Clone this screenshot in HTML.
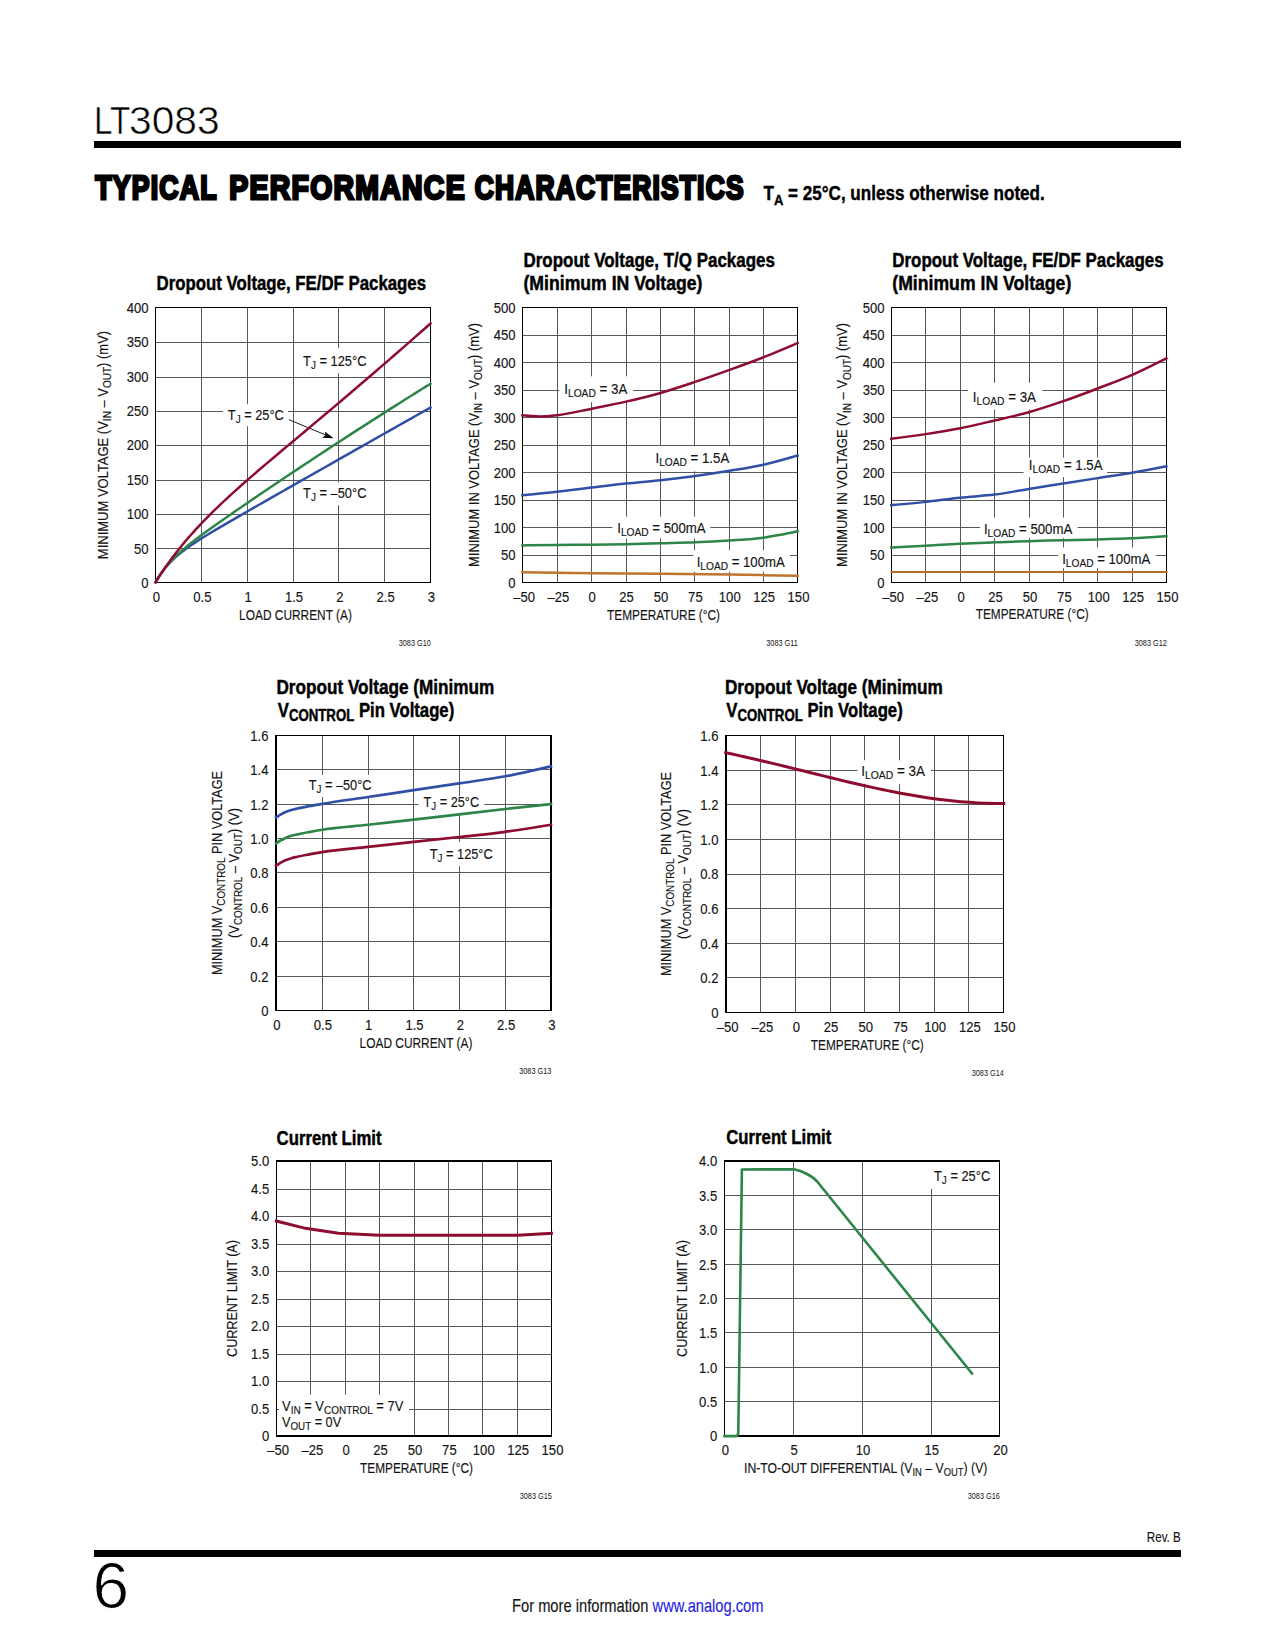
<!DOCTYPE html>
<html lang="en"><head><meta charset="utf-8"><title>LT3083 - Typical Performance Characteristics</title>
<style>
html,body{margin:0;padding:0;background:#fff;}
body{width:1275px;height:1650px;overflow:hidden;}
svg{display:block;font-family:"Liberation Sans",Arial,Helvetica,sans-serif;}
</style></head><body>
<svg width="1275" height="1650" viewBox="0 0 1275 1650">
<rect width="1275" height="1650" fill="#fff"/>
<rect x="94" y="141" width="1087" height="7" fill="#000"/>
<rect x="94" y="1550" width="1087" height="7" fill="#000"/>
<text y="134" font-size="39" fill="#000" stroke="#fff" stroke-width="0.55" paint-order="fill stroke"><tspan x="94" textLength="36.4" lengthAdjust="spacingAndGlyphs">LT</tspan><tspan x="129" textLength="90.6" lengthAdjust="spacingAndGlyphs">3083</tspan></text>
<text transform="translate(92.40,1608.00) scale(1.0300,1)" font-size="64.00" text-anchor="start" fill="#000" stroke="#fff" stroke-width="1.0" paint-order="fill stroke" xml:space="preserve">6</text>
<text y="198.9" font-size="33.2" font-weight="bold" fill="#000" stroke="#000" stroke-width="2.8" stroke-linejoin="miter" letter-spacing="1.5" xml:space="preserve"><tspan x="95.2" textLength="122.0" lengthAdjust="spacingAndGlyphs">TYPICAL</tspan> <tspan x="229.3" textLength="236.6" lengthAdjust="spacingAndGlyphs">PERFORMANCE</tspan> <tspan x="474.7" textLength="270.0" lengthAdjust="spacingAndGlyphs">CHARACTERISTICS</tspan></text>
<text transform="translate(763.50,199.50) scale(0.8456,1)" font-size="20.20" text-anchor="start" font-weight="bold" fill="#000" stroke="#000" stroke-width="0.4" xml:space="preserve">T<tspan font-size="15.35" dy="5.50">A</tspan><tspan dy="-5.50"> = 25°C, unless otherwise noted.</tspan></text>
<text transform="translate(512.00,1611.80) scale(0.8172,1)" font-size="18.00" text-anchor="start" fill="#141414" stroke="#141414" stroke-width="0.15" xml:space="preserve">For more information </text>
<text transform="translate(652.60,1611.80) scale(0.8158,1)" font-size="18.00" text-anchor="start" fill="#1f1fe0" stroke="#1f1fe0" stroke-width="0.15" xml:space="preserve">www.analog.com</text>
<text transform="translate(1180.80,1542.00) scale(0.8298,1)" font-size="14.00" text-anchor="end" fill="#141414" stroke="#141414" stroke-width="0.15" xml:space="preserve">Rev. B</text>
<path d="M201.5 307.5V582.5M247.5 307.5V582.5M293.5 307.5V582.5M338.5 307.5V582.5M384.5 307.5V582.5M155.5 342.5H430.5M155.5 377.5H430.5M155.5 411.5H430.5M155.5 445.5H430.5M155.5 480.5H430.5M155.5 514.5H430.5M155.5 548.5H430.5" stroke="#58595b" stroke-width="1" fill="none"/>
<rect x="299.0" y="348.0" width="71.0" height="25.2" fill="#fff"/>
<rect x="222.8" y="404.2" width="65.2" height="22.1" fill="#fff"/>
<rect x="299.0" y="482.4" width="71.0" height="22.8" fill="#fff"/>
<rect x="155.0" y="307.0" width="276.0" height="1.0" fill="#000"/>
<rect x="155.0" y="582.0" width="276.0" height="1.0" fill="#000"/>
<rect x="155.0" y="307.0" width="1.0" height="276.0" fill="#000"/>
<rect x="430.0" y="307.0" width="1.0" height="276.0" fill="#000"/>
<path d="M289 419.7L326 435.1" stroke="#000" stroke-width="0.9" fill="none"/><path d="M333.6 438.2L322.3 437.7L325.6 434.9L324.8 431.4Z" fill="#000"/>
<g fill="none" stroke-linejoin="round" stroke-linecap="square">
<path d="M155.50 582.37C156.30 580.95 157.11 579.53 157.91 578.21C158.72 576.89 159.52 575.66 160.32 574.47C161.13 573.28 161.93 572.16 162.74 571.08C163.54 570.00 164.35 568.98 165.15 567.99C165.95 567.01 166.76 566.07 167.56 565.17C168.37 564.26 169.17 563.39 169.97 562.55C170.78 561.72 171.58 560.91 172.39 560.13C173.19 559.35 173.99 558.60 174.80 557.86C175.60 557.13 176.41 556.42 177.21 555.73C178.01 555.03 178.82 554.36 179.62 553.71C180.43 553.05 181.23 552.41 182.04 551.78C182.84 551.15 183.64 550.54 184.45 549.94C185.25 549.34 186.06 548.75 186.86 548.17C187.66 547.59 188.47 547.02 189.27 546.45C190.08 545.89 190.88 545.34 191.68 544.79C192.49 544.24 193.29 543.70 194.10 543.17C194.90 542.64 195.70 542.11 196.51 541.59C197.31 541.06 198.12 540.55 198.92 540.03C199.73 539.52 200.53 539.01 201.33 538.51C204.06 536.79 206.79 535.13 209.52 533.47C212.25 531.82 214.97 530.21 217.70 528.59C220.43 526.98 223.16 525.39 225.89 523.80C228.62 522.21 231.34 520.64 234.07 519.06C236.80 517.49 239.53 515.92 242.26 514.36C244.98 512.79 247.71 511.23 250.44 509.67C253.17 508.10 255.90 506.55 258.62 504.99C261.35 503.43 264.08 501.87 266.81 500.32C269.54 498.76 272.27 497.21 274.99 495.65C277.72 494.10 280.45 492.55 283.18 490.99C285.91 489.44 288.63 487.89 291.36 486.34C294.09 484.79 296.82 483.24 299.55 481.68C302.28 480.13 305.00 478.58 307.73 477.03C310.46 475.48 313.19 473.93 315.92 472.39C318.64 470.84 321.37 469.29 324.10 467.74C326.83 466.19 329.56 464.64 332.29 463.10C335.01 461.55 337.74 460.00 340.47 458.46C343.20 456.91 345.93 455.36 348.65 453.82C351.38 452.27 354.11 450.72 356.84 449.18C359.57 447.63 362.30 446.09 365.02 444.55C367.75 443.00 370.48 441.46 373.21 439.91C375.94 438.37 378.66 436.83 381.39 435.28C384.12 433.74 386.85 432.20 389.58 430.65C392.31 429.11 395.03 427.57 397.76 426.03C400.49 424.49 403.22 422.95 405.95 421.41C408.67 419.86 411.40 418.32 414.13 416.78C416.86 415.24 419.59 413.70 422.32 412.16C425.04 410.62 427.77 409.09 430.50 407.55" stroke="#3050a6" stroke-width="2.50"/>
<path d="M155.50 582.37C156.30 580.96 157.11 579.54 157.91 578.22C158.72 576.90 159.52 575.65 160.32 574.45C161.13 573.25 161.93 572.11 162.74 571.01C163.54 569.90 164.35 568.86 165.15 567.84C165.95 566.82 166.76 565.85 167.56 564.90C168.37 563.95 169.17 563.04 169.97 562.16C170.78 561.27 171.58 560.42 172.39 559.58C173.19 558.75 173.99 557.94 174.80 557.14C175.60 556.35 176.41 555.58 177.21 554.82C178.01 554.07 178.82 553.33 179.62 552.60C180.43 551.88 181.23 551.17 182.04 550.47C182.84 549.77 183.64 549.08 184.45 548.40C185.25 547.73 186.06 547.06 186.86 546.40C187.66 545.74 188.47 545.09 189.27 544.45C190.08 543.80 190.88 543.17 191.68 542.54C192.49 541.90 193.29 541.28 194.10 540.66C194.90 540.04 195.70 539.43 196.51 538.82C197.31 538.21 198.12 537.61 198.92 537.00C199.73 536.40 200.53 535.81 201.33 535.21C204.06 533.19 206.79 531.22 209.52 529.26C212.25 527.30 214.97 525.37 217.70 523.45C220.43 521.52 223.16 519.62 225.89 517.72C228.62 515.82 231.34 513.94 234.07 512.05C236.80 510.17 239.53 508.30 242.26 506.43C244.98 504.56 247.71 502.70 250.44 500.84C253.17 498.98 255.90 497.13 258.62 495.28C261.35 493.43 264.08 491.58 266.81 489.74C269.54 487.90 272.27 486.07 274.99 484.23C277.72 482.40 280.45 480.57 283.18 478.74C285.91 476.92 288.63 475.10 291.36 473.28C294.09 471.46 296.82 469.65 299.55 467.84C302.28 466.03 305.00 464.22 307.73 462.42C310.46 460.61 313.19 458.81 315.92 457.02C318.64 455.22 321.37 453.43 324.10 451.64C326.83 449.85 329.56 448.07 332.29 446.29C335.01 444.50 337.74 442.73 340.47 440.95C343.20 439.18 345.93 437.41 348.65 435.64C351.38 433.87 354.11 432.11 356.84 430.35C359.57 428.59 362.30 426.83 365.02 425.08C367.75 423.33 370.48 421.58 373.21 419.83C375.94 418.09 378.66 416.34 381.39 414.61C384.12 412.87 386.85 411.13 389.58 409.40C392.31 407.67 395.03 405.94 397.76 404.22C400.49 402.49 403.22 400.77 405.95 399.05C408.67 397.33 411.40 395.62 414.13 393.91C416.86 392.20 419.59 390.49 422.32 388.79C425.04 387.08 427.77 385.38 430.50 383.69" stroke="#2d8548" stroke-width="2.50"/>
<path d="M155.50 582.37C156.30 581.09 157.11 579.80 157.91 578.54C158.72 577.28 159.52 576.04 160.32 574.81C161.13 573.59 161.93 572.38 162.74 571.19C163.54 570.00 164.35 568.82 165.15 567.66C165.95 566.50 166.76 565.36 167.56 564.23C168.37 563.10 169.17 561.98 169.97 560.88C170.78 559.78 171.58 558.69 172.39 557.62C173.19 556.54 173.99 555.48 174.80 554.43C175.60 553.38 176.41 552.35 177.21 551.32C178.01 550.30 178.82 549.28 179.62 548.28C180.43 547.28 181.23 546.29 182.04 545.30C182.84 544.32 183.64 543.35 184.45 542.39C185.25 541.43 186.06 540.48 186.86 539.54C187.66 538.60 188.47 537.67 189.27 536.75C190.08 535.82 190.88 534.91 191.68 534.00C192.49 533.10 193.29 532.20 194.10 531.31C194.90 530.42 195.70 529.54 196.51 528.66C197.31 527.79 198.12 526.92 198.92 526.06C199.73 525.20 200.53 524.35 201.33 523.50C204.06 520.63 206.79 517.84 209.52 515.10C212.25 512.36 214.97 509.70 217.70 507.07C220.43 504.44 223.16 501.88 225.89 499.34C228.62 496.80 231.34 494.31 234.07 491.85C236.80 489.38 239.53 486.95 242.26 484.54C244.98 482.13 247.71 479.74 250.44 477.37C253.17 475.01 255.90 472.66 258.62 470.32C261.35 467.98 264.08 465.66 266.81 463.35C269.54 461.03 272.27 458.73 274.99 456.43C277.72 454.13 280.45 451.84 283.18 449.55C285.91 447.26 288.63 444.98 291.36 442.70C294.09 440.41 296.82 438.13 299.55 435.85C302.28 433.56 305.00 431.28 307.73 428.99C310.46 426.71 313.19 424.42 315.92 422.13C318.64 419.84 321.37 417.55 324.10 415.26C326.83 412.96 329.56 410.66 332.29 408.36C335.01 406.06 337.74 403.75 340.47 401.44C343.20 399.13 345.93 396.81 348.65 394.49C351.38 392.17 354.11 389.85 356.84 387.52C359.57 385.19 362.30 382.85 365.02 380.51C367.75 378.17 370.48 375.83 373.21 373.48C375.94 371.13 378.66 368.78 381.39 366.42C384.12 364.06 386.85 361.70 389.58 359.33C392.31 356.96 395.03 354.59 397.76 352.22C400.49 349.84 403.22 347.46 405.95 345.07C408.67 342.69 411.40 340.30 414.13 337.90C416.86 335.51 419.59 333.11 422.32 330.71C425.04 328.31 427.77 325.90 430.50 323.49" stroke="#8e0c30" stroke-width="2.50"/>
</g>
<text transform="translate(303.10,366.00) scale(0.8412,1)" font-size="15.30" text-anchor="start" fill="#141414" stroke="#141414" stroke-width="0.15" xml:space="preserve">T<tspan font-size="11.78" dy="3.00">J</tspan><tspan dy="-3.00"> = 125°C</tspan></text>
<text transform="translate(227.80,420.00) scale(0.8376,1)" font-size="15.30" text-anchor="start" fill="#141414" stroke="#141414" stroke-width="0.15" xml:space="preserve">T<tspan font-size="11.78" dy="3.00">J</tspan><tspan dy="-3.00"> = 25°C</tspan></text>
<text transform="translate(303.10,497.60) scale(0.8412,1)" font-size="15.30" text-anchor="start" fill="#141414" stroke="#141414" stroke-width="0.15" xml:space="preserve">T<tspan font-size="11.78" dy="3.00">J</tspan><tspan dy="-3.00"> = –50°C</tspan></text>
<text transform="translate(156.50,601.80) scale(0.8600,1)" font-size="15.20" text-anchor="middle" fill="#141414" stroke="#141414" stroke-width="0.15" xml:space="preserve">0</text>
<text transform="translate(202.33,601.80) scale(0.8600,1)" font-size="15.20" text-anchor="middle" fill="#141414" stroke="#141414" stroke-width="0.15" xml:space="preserve">0.5</text>
<text transform="translate(248.17,601.80) scale(0.8600,1)" font-size="15.20" text-anchor="middle" fill="#141414" stroke="#141414" stroke-width="0.15" xml:space="preserve">1</text>
<text transform="translate(294.00,601.80) scale(0.8600,1)" font-size="15.20" text-anchor="middle" fill="#141414" stroke="#141414" stroke-width="0.15" xml:space="preserve">1.5</text>
<text transform="translate(339.83,601.80) scale(0.8600,1)" font-size="15.20" text-anchor="middle" fill="#141414" stroke="#141414" stroke-width="0.15" xml:space="preserve">2</text>
<text transform="translate(385.67,601.80) scale(0.8600,1)" font-size="15.20" text-anchor="middle" fill="#141414" stroke="#141414" stroke-width="0.15" xml:space="preserve">2.5</text>
<text transform="translate(431.50,601.80) scale(0.8600,1)" font-size="15.20" text-anchor="middle" fill="#141414" stroke="#141414" stroke-width="0.15" xml:space="preserve">3</text>
<text transform="translate(148.50,587.90) scale(0.8600,1)" font-size="15.20" text-anchor="end" fill="#141414" stroke="#141414" stroke-width="0.15" xml:space="preserve">0</text>
<text transform="translate(148.50,553.52) scale(0.8600,1)" font-size="15.20" text-anchor="end" fill="#141414" stroke="#141414" stroke-width="0.15" xml:space="preserve">50</text>
<text transform="translate(148.50,519.15) scale(0.8600,1)" font-size="15.20" text-anchor="end" fill="#141414" stroke="#141414" stroke-width="0.15" xml:space="preserve">100</text>
<text transform="translate(148.50,484.77) scale(0.8600,1)" font-size="15.20" text-anchor="end" fill="#141414" stroke="#141414" stroke-width="0.15" xml:space="preserve">150</text>
<text transform="translate(148.50,450.40) scale(0.8600,1)" font-size="15.20" text-anchor="end" fill="#141414" stroke="#141414" stroke-width="0.15" xml:space="preserve">200</text>
<text transform="translate(148.50,416.02) scale(0.8600,1)" font-size="15.20" text-anchor="end" fill="#141414" stroke="#141414" stroke-width="0.15" xml:space="preserve">250</text>
<text transform="translate(148.50,381.65) scale(0.8600,1)" font-size="15.20" text-anchor="end" fill="#141414" stroke="#141414" stroke-width="0.15" xml:space="preserve">300</text>
<text transform="translate(148.50,347.27) scale(0.8600,1)" font-size="15.20" text-anchor="end" fill="#141414" stroke="#141414" stroke-width="0.15" xml:space="preserve">350</text>
<text transform="translate(148.50,312.90) scale(0.8600,1)" font-size="15.20" text-anchor="end" fill="#141414" stroke="#141414" stroke-width="0.15" xml:space="preserve">400</text>
<text transform="translate(156.50,289.50) scale(0.8489,1)" font-size="19.80" text-anchor="start" font-weight="bold" fill="#000" stroke="#000" stroke-width="0.45" xml:space="preserve">Dropout Voltage, FE/DF Packages</text>
<text transform="translate(295.50,620.10) scale(0.7840,1)" font-size="15.20" text-anchor="middle" fill="#141414" stroke="#141414" stroke-width="0.15" xml:space="preserve">LOAD CURRENT (A)</text>
<text transform="translate(108.00,445.00) rotate(-90) scale(0.8550,1)" font-size="15.20" text-anchor="middle" fill="#141414" stroke="#141414" stroke-width="0.15" xml:space="preserve">MINIMUM VOLTAGE (V<tspan font-size="11.70" dy="3.40">IN</tspan><tspan dy="-3.40"> – V</tspan><tspan font-size="11.70" dy="3.40">OUT</tspan><tspan dy="-3.40">) (mV)</tspan></text>
<text transform="translate(430.80,646.00) scale(0.8400,1)" font-size="8.70" text-anchor="end" fill="#141414" xml:space="preserve">3083 G10</text>
<path d="M557.5 307.5V582.5M591.5 307.5V582.5M626.5 307.5V582.5M660.5 307.5V582.5M694.5 307.5V582.5M729.5 307.5V582.5M763.5 307.5V582.5M522.5 335.5H797.5M522.5 362.5H797.5M522.5 390.5H797.5M522.5 417.5H797.5M522.5 445.5H797.5M522.5 472.5H797.5M522.5 500.5H797.5M522.5 527.5H797.5M522.5 555.5H797.5" stroke="#58595b" stroke-width="1" fill="none"/>
<rect x="559.4" y="376.3" width="73.8" height="25.9" fill="#fff"/>
<rect x="652.0" y="446.2" width="82.0" height="25.1" fill="#fff"/>
<rect x="612.4" y="516.7" width="97.9" height="21.8" fill="#fff"/>
<rect x="693.3" y="550.4" width="96.5" height="21.2" fill="#fff"/>
<rect x="522.0" y="307.0" width="276.0" height="1.0" fill="#000"/>
<rect x="522.0" y="582.0" width="276.0" height="1.0" fill="#000"/>
<rect x="522.0" y="307.0" width="1.0" height="276.0" fill="#000"/>
<rect x="797.0" y="307.0" width="1.0" height="276.0" fill="#000"/>

<g fill="none" stroke-linejoin="round" stroke-linecap="square">
<path d="M522.47 415.29C528.12 415.87 533.76 416.45 539.41 416.47C545.29 416.49 551.18 415.93 557.06 415.29C568.59 414.04 580.12 410.99 591.65 408.71C603.10 406.44 614.55 404.26 626.00 401.65C637.53 399.01 649.06 396.24 660.59 392.94C672.12 389.65 683.65 385.74 695.18 381.88C706.63 378.05 718.08 374.02 729.53 369.88C740.90 365.78 752.27 361.66 763.65 357.18C774.94 352.72 786.24 347.89 797.53 343.06" stroke="#8e0c30" stroke-width="2.50"/>
<path d="M522.47 495.29C534.00 494.18 545.53 493.06 557.06 491.76C568.59 490.47 580.12 488.91 591.65 487.53C603.10 486.16 614.55 484.74 626.00 483.53C637.53 482.31 649.06 481.49 660.59 480.24C672.12 478.98 683.65 477.58 695.18 476.00C706.63 474.44 718.08 472.71 729.53 470.82C740.90 468.95 752.27 467.27 763.65 464.71C774.94 462.16 786.24 458.85 797.53 455.53" stroke="#3050a6" stroke-width="2.50"/>
<path d="M522.47 545.41C534.00 545.24 545.53 545.06 557.06 544.94C568.59 544.82 580.12 544.82 591.65 544.71C603.10 544.59 614.55 544.47 626.00 544.24C637.53 544.00 649.06 543.61 660.59 543.29C672.12 542.98 683.65 542.83 695.18 542.35C706.63 541.88 718.08 541.26 729.53 540.47C740.90 539.69 752.27 539.23 763.65 537.65C769.29 536.86 774.94 535.88 780.59 534.82C786.24 533.76 791.88 532.53 797.53 531.29" stroke="#2d8548" stroke-width="2.50"/>
<path d="M522.47 572.24C545.53 572.59 568.59 572.94 591.65 573.18C614.63 573.41 637.61 573.41 660.59 573.65C683.57 573.88 706.55 574.23 729.53 574.59C752.20 574.94 774.86 575.35 797.53 575.76" stroke="#bf7530" stroke-width="2.50"/>
</g>
<text transform="translate(564.20,393.80) scale(0.8719,1)" font-size="15.30" text-anchor="start" fill="#141414" stroke="#141414" stroke-width="0.15" xml:space="preserve">I<tspan font-size="11.78" dy="3.00">LOAD</tspan><tspan dy="-3.00"> = 3A</tspan></text>
<text transform="translate(655.50,462.70) scale(0.8658,1)" font-size="15.30" text-anchor="start" fill="#141414" stroke="#141414" stroke-width="0.15" xml:space="preserve">I<tspan font-size="11.78" dy="3.00">LOAD</tspan><tspan dy="-3.00"> = 1.5A</tspan></text>
<text transform="translate(617.20,532.80) scale(0.8655,1)" font-size="15.30" text-anchor="start" fill="#141414" stroke="#141414" stroke-width="0.15" xml:space="preserve">I<tspan font-size="11.78" dy="3.00">LOAD</tspan><tspan dy="-3.00"> = 500mA</tspan></text>
<text transform="translate(696.70,567.00) scale(0.8616,1)" font-size="15.30" text-anchor="start" fill="#141414" stroke="#141414" stroke-width="0.15" xml:space="preserve">I<tspan font-size="11.78" dy="3.00">LOAD</tspan><tspan dy="-3.00"> = 100mA</tspan></text>
<text transform="translate(524.10,601.80) scale(0.8600,1)" font-size="15.20" text-anchor="middle" fill="#141414" stroke="#141414" stroke-width="0.15" xml:space="preserve">–50</text>
<text transform="translate(558.48,601.80) scale(0.8600,1)" font-size="15.20" text-anchor="middle" fill="#141414" stroke="#141414" stroke-width="0.15" xml:space="preserve">–25</text>
<text transform="translate(592.25,601.80) scale(0.8600,1)" font-size="15.20" text-anchor="middle" fill="#141414" stroke="#141414" stroke-width="0.15" xml:space="preserve">0</text>
<text transform="translate(626.62,601.80) scale(0.8600,1)" font-size="15.20" text-anchor="middle" fill="#141414" stroke="#141414" stroke-width="0.15" xml:space="preserve">25</text>
<text transform="translate(661.00,601.80) scale(0.8600,1)" font-size="15.20" text-anchor="middle" fill="#141414" stroke="#141414" stroke-width="0.15" xml:space="preserve">50</text>
<text transform="translate(695.38,601.80) scale(0.8600,1)" font-size="15.20" text-anchor="middle" fill="#141414" stroke="#141414" stroke-width="0.15" xml:space="preserve">75</text>
<text transform="translate(729.75,601.80) scale(0.8600,1)" font-size="15.20" text-anchor="middle" fill="#141414" stroke="#141414" stroke-width="0.15" xml:space="preserve">100</text>
<text transform="translate(764.12,601.80) scale(0.8600,1)" font-size="15.20" text-anchor="middle" fill="#141414" stroke="#141414" stroke-width="0.15" xml:space="preserve">125</text>
<text transform="translate(798.50,601.80) scale(0.8600,1)" font-size="15.20" text-anchor="middle" fill="#141414" stroke="#141414" stroke-width="0.15" xml:space="preserve">150</text>
<text transform="translate(515.50,587.90) scale(0.8600,1)" font-size="15.20" text-anchor="end" fill="#141414" stroke="#141414" stroke-width="0.15" xml:space="preserve">0</text>
<text transform="translate(515.50,560.40) scale(0.8600,1)" font-size="15.20" text-anchor="end" fill="#141414" stroke="#141414" stroke-width="0.15" xml:space="preserve">50</text>
<text transform="translate(515.50,532.90) scale(0.8600,1)" font-size="15.20" text-anchor="end" fill="#141414" stroke="#141414" stroke-width="0.15" xml:space="preserve">100</text>
<text transform="translate(515.50,505.40) scale(0.8600,1)" font-size="15.20" text-anchor="end" fill="#141414" stroke="#141414" stroke-width="0.15" xml:space="preserve">150</text>
<text transform="translate(515.50,477.90) scale(0.8600,1)" font-size="15.20" text-anchor="end" fill="#141414" stroke="#141414" stroke-width="0.15" xml:space="preserve">200</text>
<text transform="translate(515.50,450.40) scale(0.8600,1)" font-size="15.20" text-anchor="end" fill="#141414" stroke="#141414" stroke-width="0.15" xml:space="preserve">250</text>
<text transform="translate(515.50,422.90) scale(0.8600,1)" font-size="15.20" text-anchor="end" fill="#141414" stroke="#141414" stroke-width="0.15" xml:space="preserve">300</text>
<text transform="translate(515.50,395.40) scale(0.8600,1)" font-size="15.20" text-anchor="end" fill="#141414" stroke="#141414" stroke-width="0.15" xml:space="preserve">350</text>
<text transform="translate(515.50,367.90) scale(0.8600,1)" font-size="15.20" text-anchor="end" fill="#141414" stroke="#141414" stroke-width="0.15" xml:space="preserve">400</text>
<text transform="translate(515.50,340.40) scale(0.8600,1)" font-size="15.20" text-anchor="end" fill="#141414" stroke="#141414" stroke-width="0.15" xml:space="preserve">450</text>
<text transform="translate(515.50,312.90) scale(0.8600,1)" font-size="15.20" text-anchor="end" fill="#141414" stroke="#141414" stroke-width="0.15" xml:space="preserve">500</text>
<text transform="translate(523.50,267.00) scale(0.8572,1)" font-size="19.80" text-anchor="start" font-weight="bold" fill="#000" stroke="#000" stroke-width="0.45" xml:space="preserve">Dropout Voltage, T/Q Packages</text>
<text transform="translate(523.50,289.50) scale(0.8908,1)" font-size="19.80" text-anchor="start" font-weight="bold" fill="#000" stroke="#000" stroke-width="0.45" xml:space="preserve">(Minimum IN Voltage)</text>
<text transform="translate(663.50,620.10) scale(0.7786,1)" font-size="15.20" text-anchor="middle" fill="#141414" stroke="#141414" stroke-width="0.15" xml:space="preserve">TEMPERATURE (°C)</text>
<text transform="translate(479.00,445.00) rotate(-90) scale(0.8512,1)" font-size="15.20" text-anchor="middle" fill="#141414" stroke="#141414" stroke-width="0.15" xml:space="preserve">MINIMUM IN VOLTAGE (V<tspan font-size="11.70" dy="3.40">IN</tspan><tspan dy="-3.40"> – V</tspan><tspan font-size="11.70" dy="3.40">OUT</tspan><tspan dy="-3.40">) (mV)</tspan></text>
<text transform="translate(797.80,646.00) scale(0.8400,1)" font-size="8.70" text-anchor="end" fill="#141414" xml:space="preserve">3083 G11</text>
<path d="M925.5 307.5V582.5M960.5 307.5V582.5M994.5 307.5V582.5M1029.5 307.5V582.5M1063.5 307.5V582.5M1097.5 307.5V582.5M1132.5 307.5V582.5M891.5 335.5H1166.5M891.5 362.5H1166.5M891.5 390.5H1166.5M891.5 417.5H1166.5M891.5 445.5H1166.5M891.5 472.5H1166.5M891.5 500.5H1166.5M891.5 527.5H1166.5M891.5 555.5H1166.5" stroke="#58595b" stroke-width="1" fill="none"/>
<rect x="968.2" y="382.8" width="74.2" height="26.6" fill="#fff"/>
<rect x="1023.5" y="457.6" width="83.5" height="19.4" fill="#fff"/>
<rect x="980.0" y="517.6" width="97.6" height="20.5" fill="#fff"/>
<rect x="1058.1" y="547.5" width="97.7" height="20.7" fill="#fff"/>
<rect x="891.0" y="307.0" width="276.0" height="1.0" fill="#000"/>
<rect x="891.0" y="582.0" width="276.0" height="1.0" fill="#000"/>
<rect x="891.0" y="307.0" width="1.0" height="276.0" fill="#000"/>
<rect x="1166.0" y="307.0" width="1.0" height="276.0" fill="#000"/>

<g fill="none" stroke-linejoin="round" stroke-linecap="square">
<path d="M891.29 438.82C902.75 437.35 914.20 435.88 925.65 434.12C937.18 432.35 948.71 430.52 960.24 428.24C971.69 425.97 983.14 423.15 994.59 420.47C1005.96 417.81 1017.33 415.42 1028.71 412.24C1040.24 409.00 1051.76 405.15 1063.29 401.18C1074.75 397.23 1086.20 392.85 1097.65 388.47C1109.18 384.06 1120.71 379.88 1132.24 374.82C1143.61 369.83 1154.98 364.09 1166.35 358.35" stroke="#8e0c30" stroke-width="2.50"/>
<path d="M891.29 505.18C902.75 504.15 914.20 503.13 925.65 501.88C937.18 500.62 948.71 498.87 960.24 497.65C971.69 496.44 983.14 496.05 994.59 494.59C1005.96 493.14 1017.33 490.77 1028.71 488.94C1040.24 487.08 1051.76 485.34 1063.29 483.53C1074.75 481.73 1086.20 479.92 1097.65 478.12C1109.18 476.31 1120.71 474.68 1132.24 472.71C1143.61 470.76 1154.98 468.55 1166.35 466.35" stroke="#3050a6" stroke-width="2.50"/>
<path d="M891.29 547.53C902.75 546.90 914.20 546.27 925.65 545.65C937.18 545.02 948.71 544.32 960.24 543.76C971.69 543.22 983.14 542.79 994.59 542.35C1005.96 541.92 1017.33 541.53 1028.71 541.18C1040.24 540.82 1051.76 540.51 1063.29 540.24C1074.75 539.96 1086.20 539.84 1097.65 539.53C1109.18 539.22 1120.71 538.91 1132.24 538.35C1143.61 537.81 1154.98 537.02 1166.35 536.24" stroke="#2d8548" stroke-width="2.50"/>
<path d="M891.5 571.9H1166.5" stroke="#b96d2c" stroke-width="2.00"/>
</g>
<text transform="translate(972.80,401.90) scale(0.8719,1)" font-size="15.30" text-anchor="start" fill="#141414" stroke="#141414" stroke-width="0.15" xml:space="preserve">I<tspan font-size="11.78" dy="3.00">LOAD</tspan><tspan dy="-3.00"> = 3A</tspan></text>
<text transform="translate(1028.80,469.90) scale(0.8658,1)" font-size="15.30" text-anchor="start" fill="#141414" stroke="#141414" stroke-width="0.15" xml:space="preserve">I<tspan font-size="11.78" dy="3.00">LOAD</tspan><tspan dy="-3.00"> = 1.5A</tspan></text>
<text transform="translate(983.90,534.10) scale(0.8655,1)" font-size="15.30" text-anchor="start" fill="#141414" stroke="#141414" stroke-width="0.15" xml:space="preserve">I<tspan font-size="11.78" dy="3.00">LOAD</tspan><tspan dy="-3.00"> = 500mA</tspan></text>
<text transform="translate(1062.20,564.00) scale(0.8616,1)" font-size="15.30" text-anchor="start" fill="#141414" stroke="#141414" stroke-width="0.15" xml:space="preserve">I<tspan font-size="11.78" dy="3.00">LOAD</tspan><tspan dy="-3.00"> = 100mA</tspan></text>
<text transform="translate(893.10,601.80) scale(0.8600,1)" font-size="15.20" text-anchor="middle" fill="#141414" stroke="#141414" stroke-width="0.15" xml:space="preserve">–50</text>
<text transform="translate(927.48,601.80) scale(0.8600,1)" font-size="15.20" text-anchor="middle" fill="#141414" stroke="#141414" stroke-width="0.15" xml:space="preserve">–25</text>
<text transform="translate(961.25,601.80) scale(0.8600,1)" font-size="15.20" text-anchor="middle" fill="#141414" stroke="#141414" stroke-width="0.15" xml:space="preserve">0</text>
<text transform="translate(995.62,601.80) scale(0.8600,1)" font-size="15.20" text-anchor="middle" fill="#141414" stroke="#141414" stroke-width="0.15" xml:space="preserve">25</text>
<text transform="translate(1030.00,601.80) scale(0.8600,1)" font-size="15.20" text-anchor="middle" fill="#141414" stroke="#141414" stroke-width="0.15" xml:space="preserve">50</text>
<text transform="translate(1064.38,601.80) scale(0.8600,1)" font-size="15.20" text-anchor="middle" fill="#141414" stroke="#141414" stroke-width="0.15" xml:space="preserve">75</text>
<text transform="translate(1098.75,601.80) scale(0.8600,1)" font-size="15.20" text-anchor="middle" fill="#141414" stroke="#141414" stroke-width="0.15" xml:space="preserve">100</text>
<text transform="translate(1133.12,601.80) scale(0.8600,1)" font-size="15.20" text-anchor="middle" fill="#141414" stroke="#141414" stroke-width="0.15" xml:space="preserve">125</text>
<text transform="translate(1167.50,601.80) scale(0.8600,1)" font-size="15.20" text-anchor="middle" fill="#141414" stroke="#141414" stroke-width="0.15" xml:space="preserve">150</text>
<text transform="translate(884.50,587.90) scale(0.8600,1)" font-size="15.20" text-anchor="end" fill="#141414" stroke="#141414" stroke-width="0.15" xml:space="preserve">0</text>
<text transform="translate(884.50,560.40) scale(0.8600,1)" font-size="15.20" text-anchor="end" fill="#141414" stroke="#141414" stroke-width="0.15" xml:space="preserve">50</text>
<text transform="translate(884.50,532.90) scale(0.8600,1)" font-size="15.20" text-anchor="end" fill="#141414" stroke="#141414" stroke-width="0.15" xml:space="preserve">100</text>
<text transform="translate(884.50,505.40) scale(0.8600,1)" font-size="15.20" text-anchor="end" fill="#141414" stroke="#141414" stroke-width="0.15" xml:space="preserve">150</text>
<text transform="translate(884.50,477.90) scale(0.8600,1)" font-size="15.20" text-anchor="end" fill="#141414" stroke="#141414" stroke-width="0.15" xml:space="preserve">200</text>
<text transform="translate(884.50,450.40) scale(0.8600,1)" font-size="15.20" text-anchor="end" fill="#141414" stroke="#141414" stroke-width="0.15" xml:space="preserve">250</text>
<text transform="translate(884.50,422.90) scale(0.8600,1)" font-size="15.20" text-anchor="end" fill="#141414" stroke="#141414" stroke-width="0.15" xml:space="preserve">300</text>
<text transform="translate(884.50,395.40) scale(0.8600,1)" font-size="15.20" text-anchor="end" fill="#141414" stroke="#141414" stroke-width="0.15" xml:space="preserve">350</text>
<text transform="translate(884.50,367.90) scale(0.8600,1)" font-size="15.20" text-anchor="end" fill="#141414" stroke="#141414" stroke-width="0.15" xml:space="preserve">400</text>
<text transform="translate(884.50,340.40) scale(0.8600,1)" font-size="15.20" text-anchor="end" fill="#141414" stroke="#141414" stroke-width="0.15" xml:space="preserve">450</text>
<text transform="translate(884.50,312.90) scale(0.8600,1)" font-size="15.20" text-anchor="end" fill="#141414" stroke="#141414" stroke-width="0.15" xml:space="preserve">500</text>
<text transform="translate(892.30,267.00) scale(0.8548,1)" font-size="19.80" text-anchor="start" font-weight="bold" fill="#000" stroke="#000" stroke-width="0.45" xml:space="preserve">Dropout Voltage, FE/DF Packages</text>
<text transform="translate(892.30,289.50) scale(0.8908,1)" font-size="19.80" text-anchor="start" font-weight="bold" fill="#000" stroke="#000" stroke-width="0.45" xml:space="preserve">(Minimum IN Voltage)</text>
<text transform="translate(1032.20,619.10) scale(0.7786,1)" font-size="15.20" text-anchor="middle" fill="#141414" stroke="#141414" stroke-width="0.15" xml:space="preserve">TEMPERATURE (°C)</text>
<text transform="translate(847.30,445.00) rotate(-90) scale(0.8512,1)" font-size="15.20" text-anchor="middle" fill="#141414" stroke="#141414" stroke-width="0.15" xml:space="preserve">MINIMUM IN VOLTAGE (V<tspan font-size="11.70" dy="3.40">IN</tspan><tspan dy="-3.40"> – V</tspan><tspan font-size="11.70" dy="3.40">OUT</tspan><tspan dy="-3.40">) (mV)</tspan></text>
<text transform="translate(1166.80,646.00) scale(0.8400,1)" font-size="8.70" text-anchor="end" fill="#141414" xml:space="preserve">3083 G12</text>
<path d="M322.5 735.5V1010.5M368.5 735.5V1010.5M413.5 735.5V1010.5M459.5 735.5V1010.5M505.5 735.5V1010.5M276.0 769.5H551.0M276.0 804.5H551.0M276.0 838.5H551.0M276.0 872.5H551.0M276.0 907.5H551.0M276.0 941.5H551.0M276.0 976.5H551.0" stroke="#58595b" stroke-width="1" fill="none"/>
<rect x="304.0" y="774.8" width="72.0" height="22.2" fill="#fff"/>
<rect x="418.5" y="796.0" width="65.9" height="17.2" fill="#fff"/>
<rect x="425.0" y="842.2" width="72.0" height="24.0" fill="#fff"/>
<rect x="275.0" y="735.0" width="277.0" height="1.0" fill="#000"/>
<rect x="275.0" y="1010.0" width="277.0" height="1.0" fill="#000"/>
<rect x="275.0" y="735.0" width="2.0" height="276.0" fill="#000"/>
<rect x="550.0" y="735.0" width="2.0" height="276.0" fill="#000"/>

<g fill="none" stroke-linejoin="round" stroke-linecap="square">
<path d="M276.12 817.47C277.69 816.39 279.25 815.31 280.82 814.41C282.39 813.51 283.96 812.75 285.53 812.06C287.49 811.20 289.45 810.53 291.41 809.94C293.37 809.35 295.33 808.97 297.29 808.53C301.22 807.64 305.14 806.92 309.06 806.18C313.45 805.34 317.84 804.58 322.24 803.82C337.53 801.19 352.82 799.28 368.12 797.00C383.33 794.73 398.55 792.45 413.76 790.18C428.98 787.90 444.20 785.66 459.41 783.35C474.71 781.03 490.00 779.21 505.29 776.29C512.82 774.86 520.35 773.22 527.88 771.59C535.57 769.93 543.25 768.17 550.94 766.41" stroke="#3050a6" stroke-width="2.70"/>
<path d="M276.12 843.35C277.69 842.27 279.25 841.20 280.82 840.29C282.39 839.39 283.96 838.63 285.53 837.94C287.49 837.08 289.45 836.41 291.41 835.82C293.37 835.24 295.33 834.86 297.29 834.41C301.22 833.52 305.14 832.80 309.06 832.06C313.45 831.22 317.84 830.42 322.24 829.71C337.53 827.22 352.82 826.46 368.12 824.76C383.33 823.08 398.55 821.31 413.76 819.59C428.98 817.86 444.20 816.17 459.41 814.41C474.71 812.64 490.00 810.73 505.29 809.00C520.51 807.28 535.73 805.67 550.94 804.06" stroke="#2d8548" stroke-width="2.70"/>
<path d="M276.12 865.71C277.69 864.63 279.25 863.55 280.82 862.65C282.39 861.75 283.96 860.98 285.53 860.29C287.49 859.44 289.45 858.76 291.41 858.18C293.37 857.59 295.33 857.21 297.29 856.76C301.22 855.88 305.14 855.16 309.06 854.41C313.45 853.58 317.84 852.78 322.24 852.06C337.53 849.55 352.82 848.57 368.12 846.88C383.33 845.20 398.55 843.59 413.76 841.94C428.98 840.29 444.20 838.68 459.41 837.00C474.71 835.31 490.00 833.87 505.29 831.82C520.51 829.79 535.73 827.28 550.94 824.76" stroke="#8e0c30" stroke-width="2.70"/>
</g>
<text transform="translate(308.70,789.70) scale(0.8332,1)" font-size="15.30" text-anchor="start" fill="#141414" stroke="#141414" stroke-width="0.15" xml:space="preserve">T<tspan font-size="11.78" dy="3.00">J</tspan><tspan dy="-3.00"> = –50°C</tspan></text>
<text transform="translate(423.50,807.40) scale(0.8316,1)" font-size="15.30" text-anchor="start" fill="#141414" stroke="#141414" stroke-width="0.15" xml:space="preserve">T<tspan font-size="11.78" dy="3.00">J</tspan><tspan dy="-3.00"> = 25°C</tspan></text>
<text transform="translate(429.80,859.10) scale(0.8346,1)" font-size="15.30" text-anchor="start" fill="#141414" stroke="#141414" stroke-width="0.15" xml:space="preserve">T<tspan font-size="11.78" dy="3.00">J</tspan><tspan dy="-3.00"> = 125°C</tspan></text>
<text transform="translate(277.00,1029.80) scale(0.8600,1)" font-size="15.20" text-anchor="middle" fill="#141414" stroke="#141414" stroke-width="0.15" xml:space="preserve">0</text>
<text transform="translate(322.83,1029.80) scale(0.8600,1)" font-size="15.20" text-anchor="middle" fill="#141414" stroke="#141414" stroke-width="0.15" xml:space="preserve">0.5</text>
<text transform="translate(368.67,1029.80) scale(0.8600,1)" font-size="15.20" text-anchor="middle" fill="#141414" stroke="#141414" stroke-width="0.15" xml:space="preserve">1</text>
<text transform="translate(414.50,1029.80) scale(0.8600,1)" font-size="15.20" text-anchor="middle" fill="#141414" stroke="#141414" stroke-width="0.15" xml:space="preserve">1.5</text>
<text transform="translate(460.33,1029.80) scale(0.8600,1)" font-size="15.20" text-anchor="middle" fill="#141414" stroke="#141414" stroke-width="0.15" xml:space="preserve">2</text>
<text transform="translate(506.17,1029.80) scale(0.8600,1)" font-size="15.20" text-anchor="middle" fill="#141414" stroke="#141414" stroke-width="0.15" xml:space="preserve">2.5</text>
<text transform="translate(552.00,1029.80) scale(0.8600,1)" font-size="15.20" text-anchor="middle" fill="#141414" stroke="#141414" stroke-width="0.15" xml:space="preserve">3</text>
<text transform="translate(268.40,1015.90) scale(0.8600,1)" font-size="15.20" text-anchor="end" fill="#141414" stroke="#141414" stroke-width="0.15" xml:space="preserve">0</text>
<text transform="translate(268.40,981.52) scale(0.8600,1)" font-size="15.20" text-anchor="end" fill="#141414" stroke="#141414" stroke-width="0.15" xml:space="preserve">0.2</text>
<text transform="translate(268.40,947.15) scale(0.8600,1)" font-size="15.20" text-anchor="end" fill="#141414" stroke="#141414" stroke-width="0.15" xml:space="preserve">0.4</text>
<text transform="translate(268.40,912.77) scale(0.8600,1)" font-size="15.20" text-anchor="end" fill="#141414" stroke="#141414" stroke-width="0.15" xml:space="preserve">0.6</text>
<text transform="translate(268.40,878.40) scale(0.8600,1)" font-size="15.20" text-anchor="end" fill="#141414" stroke="#141414" stroke-width="0.15" xml:space="preserve">0.8</text>
<text transform="translate(268.40,844.02) scale(0.8600,1)" font-size="15.20" text-anchor="end" fill="#141414" stroke="#141414" stroke-width="0.15" xml:space="preserve">1.0</text>
<text transform="translate(268.40,809.65) scale(0.8600,1)" font-size="15.20" text-anchor="end" fill="#141414" stroke="#141414" stroke-width="0.15" xml:space="preserve">1.2</text>
<text transform="translate(268.40,775.27) scale(0.8600,1)" font-size="15.20" text-anchor="end" fill="#141414" stroke="#141414" stroke-width="0.15" xml:space="preserve">1.4</text>
<text transform="translate(268.40,740.90) scale(0.8600,1)" font-size="15.20" text-anchor="end" fill="#141414" stroke="#141414" stroke-width="0.15" xml:space="preserve">1.6</text>
<text transform="translate(276.40,694.10) scale(0.8675,1)" font-size="19.80" text-anchor="start" font-weight="bold" fill="#000" stroke="#000" stroke-width="0.45" xml:space="preserve">Dropout Voltage (Minimum</text>
<text transform="translate(277.80,716.60) scale(0.8446,1)" font-size="19.80" text-anchor="start" font-weight="bold" fill="#000" stroke="#000" stroke-width="0.45" xml:space="preserve">V<tspan font-size="15.64" dy="4.00">CONTROL</tspan><tspan dy="-4.00"> Pin Voltage)</tspan></text>
<text transform="translate(416.00,1048.10) scale(0.7840,1)" font-size="15.20" text-anchor="middle" fill="#141414" stroke="#141414" stroke-width="0.15" xml:space="preserve">LOAD CURRENT (A)</text>
<text transform="translate(222.00,873.00) rotate(-90) scale(0.8401,1)" font-size="15.20" text-anchor="middle" fill="#141414" stroke="#141414" stroke-width="0.15" xml:space="preserve">MINIMUM V<tspan font-size="11.70" dy="3.40">CONTROL</tspan><tspan dy="-3.40"> PIN VOLTAGE</tspan></text>
<text transform="translate(239.00,873.00) rotate(-90) scale(0.8457,1)" font-size="15.20" text-anchor="middle" fill="#141414" stroke="#141414" stroke-width="0.15" xml:space="preserve">(V<tspan font-size="11.70" dy="3.40">CONTROL</tspan><tspan dy="-3.40"> – V</tspan><tspan font-size="11.70" dy="3.40">OUT</tspan><tspan dy="-3.40">) (V)</tspan></text>
<text transform="translate(551.30,1074.00) scale(0.8400,1)" font-size="8.70" text-anchor="end" fill="#141414" xml:space="preserve">3083 G13</text>
<path d="M760.5 735.5V1012.5M795.5 735.5V1012.5M830.5 735.5V1012.5M864.5 735.5V1012.5M899.5 735.5V1012.5M934.5 735.5V1012.5M968.5 735.5V1012.5M726.0 770.5H1003.5M726.0 804.5H1003.5M726.0 839.5H1003.5M726.0 874.5H1003.5M726.0 908.5H1003.5M726.0 943.5H1003.5M726.0 977.5H1003.5" stroke="#58595b" stroke-width="1" fill="none"/>
<rect x="857.4" y="760.3" width="73.4" height="23.5" fill="#fff"/>
<rect x="725.0" y="735.0" width="279.0" height="1.0" fill="#000"/>
<rect x="725.0" y="1012.0" width="279.0" height="1.0" fill="#000"/>
<rect x="725.0" y="735.0" width="2.0" height="278.0" fill="#000"/>
<rect x="1003.0" y="735.0" width="1.0" height="278.0" fill="#000"/>

<g fill="none" stroke-linejoin="round" stroke-linecap="square">
<path d="M725.65 752.70C728.54 753.31 731.44 753.92 734.34 754.54C737.24 755.17 740.13 755.81 743.03 756.45C745.93 757.10 748.82 757.76 751.72 758.43C754.62 759.10 757.51 759.77 760.41 760.46C763.31 761.14 766.21 761.83 769.10 762.53C772.00 763.22 774.90 763.93 777.79 764.63C780.69 765.34 783.59 766.05 786.49 766.77C789.38 767.48 792.28 768.20 795.18 768.92C798.07 769.64 800.97 770.36 803.87 771.08C806.76 771.80 809.66 772.52 812.56 773.24C815.46 773.96 818.35 774.67 821.25 775.39C824.15 776.10 827.04 776.82 829.94 777.52C832.84 778.23 835.74 778.93 838.63 779.63C841.53 780.33 844.43 781.02 847.32 781.70C850.22 782.39 853.12 783.07 856.01 783.74C858.91 784.40 861.81 785.06 864.71 785.71C867.60 786.36 870.50 787.01 873.40 787.63C876.29 788.26 879.19 788.88 882.09 789.48C884.99 790.09 887.88 790.68 890.78 791.26C893.68 791.83 896.57 792.40 899.47 792.94C902.37 793.49 905.26 794.02 908.16 794.54C911.06 795.05 913.96 795.55 916.85 796.03C919.75 796.51 922.65 796.97 925.54 797.41C928.44 797.85 931.34 798.27 934.24 798.67C937.13 799.07 940.03 799.45 942.93 799.80C945.82 800.16 948.72 800.49 951.62 800.80C954.51 801.11 957.41 801.39 960.31 801.65C963.21 801.91 966.10 802.14 969.00 802.35C971.90 802.56 974.79 802.74 977.69 802.89C980.59 803.04 983.49 803.16 986.38 803.26C989.28 803.35 992.18 803.42 995.07 803.45C997.97 803.48 1000.87 803.47 1003.76 803.46" stroke="#8e0c30" stroke-width="3.00"/>
</g>
<text transform="translate(861.30,776.30) scale(0.8802,1)" font-size="15.30" text-anchor="start" fill="#141414" stroke="#141414" stroke-width="0.15" xml:space="preserve">I<tspan font-size="11.78" dy="3.00">LOAD</tspan><tspan dy="-3.00"> = 3A</tspan></text>
<text transform="translate(727.60,1031.80) scale(0.8600,1)" font-size="15.20" text-anchor="middle" fill="#141414" stroke="#141414" stroke-width="0.15" xml:space="preserve">–50</text>
<text transform="translate(762.29,1031.80) scale(0.8600,1)" font-size="15.20" text-anchor="middle" fill="#141414" stroke="#141414" stroke-width="0.15" xml:space="preserve">–25</text>
<text transform="translate(796.38,1031.80) scale(0.8600,1)" font-size="15.20" text-anchor="middle" fill="#141414" stroke="#141414" stroke-width="0.15" xml:space="preserve">0</text>
<text transform="translate(831.06,1031.80) scale(0.8600,1)" font-size="15.20" text-anchor="middle" fill="#141414" stroke="#141414" stroke-width="0.15" xml:space="preserve">25</text>
<text transform="translate(865.75,1031.80) scale(0.8600,1)" font-size="15.20" text-anchor="middle" fill="#141414" stroke="#141414" stroke-width="0.15" xml:space="preserve">50</text>
<text transform="translate(900.44,1031.80) scale(0.8600,1)" font-size="15.20" text-anchor="middle" fill="#141414" stroke="#141414" stroke-width="0.15" xml:space="preserve">75</text>
<text transform="translate(935.12,1031.80) scale(0.8600,1)" font-size="15.20" text-anchor="middle" fill="#141414" stroke="#141414" stroke-width="0.15" xml:space="preserve">100</text>
<text transform="translate(969.81,1031.80) scale(0.8600,1)" font-size="15.20" text-anchor="middle" fill="#141414" stroke="#141414" stroke-width="0.15" xml:space="preserve">125</text>
<text transform="translate(1004.50,1031.80) scale(0.8600,1)" font-size="15.20" text-anchor="middle" fill="#141414" stroke="#141414" stroke-width="0.15" xml:space="preserve">150</text>
<text transform="translate(718.40,1017.90) scale(0.8600,1)" font-size="15.20" text-anchor="end" fill="#141414" stroke="#141414" stroke-width="0.15" xml:space="preserve">0</text>
<text transform="translate(718.40,983.27) scale(0.8600,1)" font-size="15.20" text-anchor="end" fill="#141414" stroke="#141414" stroke-width="0.15" xml:space="preserve">0.2</text>
<text transform="translate(718.40,948.65) scale(0.8600,1)" font-size="15.20" text-anchor="end" fill="#141414" stroke="#141414" stroke-width="0.15" xml:space="preserve">0.4</text>
<text transform="translate(718.40,914.02) scale(0.8600,1)" font-size="15.20" text-anchor="end" fill="#141414" stroke="#141414" stroke-width="0.15" xml:space="preserve">0.6</text>
<text transform="translate(718.40,879.40) scale(0.8600,1)" font-size="15.20" text-anchor="end" fill="#141414" stroke="#141414" stroke-width="0.15" xml:space="preserve">0.8</text>
<text transform="translate(718.40,844.77) scale(0.8600,1)" font-size="15.20" text-anchor="end" fill="#141414" stroke="#141414" stroke-width="0.15" xml:space="preserve">1.0</text>
<text transform="translate(718.40,810.15) scale(0.8600,1)" font-size="15.20" text-anchor="end" fill="#141414" stroke="#141414" stroke-width="0.15" xml:space="preserve">1.2</text>
<text transform="translate(718.40,775.52) scale(0.8600,1)" font-size="15.20" text-anchor="end" fill="#141414" stroke="#141414" stroke-width="0.15" xml:space="preserve">1.4</text>
<text transform="translate(718.40,740.90) scale(0.8600,1)" font-size="15.20" text-anchor="end" fill="#141414" stroke="#141414" stroke-width="0.15" xml:space="preserve">1.6</text>
<text transform="translate(724.90,694.10) scale(0.8675,1)" font-size="19.80" text-anchor="start" font-weight="bold" fill="#000" stroke="#000" stroke-width="0.45" xml:space="preserve">Dropout Voltage (Minimum</text>
<text transform="translate(726.30,716.60) scale(0.8446,1)" font-size="19.80" text-anchor="start" font-weight="bold" fill="#000" stroke="#000" stroke-width="0.45" xml:space="preserve">V<tspan font-size="15.64" dy="4.00">CONTROL</tspan><tspan dy="-4.00"> Pin Voltage)</tspan></text>
<text transform="translate(867.25,1050.10) scale(0.7786,1)" font-size="15.20" text-anchor="middle" fill="#141414" stroke="#141414" stroke-width="0.15" xml:space="preserve">TEMPERATURE (°C)</text>
<text transform="translate(671.00,874.00) rotate(-90) scale(0.8401,1)" font-size="15.20" text-anchor="middle" fill="#141414" stroke="#141414" stroke-width="0.15" xml:space="preserve">MINIMUM V<tspan font-size="11.70" dy="3.40">CONTROL</tspan><tspan dy="-3.40"> PIN VOLTAGE</tspan></text>
<text transform="translate(688.00,874.00) rotate(-90) scale(0.8457,1)" font-size="15.20" text-anchor="middle" fill="#141414" stroke="#141414" stroke-width="0.15" xml:space="preserve">(V<tspan font-size="11.70" dy="3.40">CONTROL</tspan><tspan dy="-3.40"> – V</tspan><tspan font-size="11.70" dy="3.40">OUT</tspan><tspan dy="-3.40">) (V)</tspan></text>
<text transform="translate(1003.80,1076.00) scale(0.8400,1)" font-size="8.70" text-anchor="end" fill="#141414" xml:space="preserve">3083 G14</text>
<path d="M310.5 1161.0V1436.0M345.5 1161.0V1436.0M379.5 1161.0V1436.0M414.5 1161.0V1436.0M448.5 1161.0V1436.0M482.5 1161.0V1436.0M517.5 1161.0V1436.0M276.5 1189.5H551.5M276.5 1216.5H551.5M276.5 1244.5H551.5M276.5 1271.5H551.5M276.5 1299.5H551.5M276.5 1326.5H551.5M276.5 1354.5H551.5M276.5 1381.5H551.5M276.5 1409.5H551.5" stroke="#58595b" stroke-width="1" fill="none"/>
<rect x="279.0" y="1394.7" width="130.0" height="40.3" fill="#fff"/>
<rect x="276.0" y="1160.0" width="276.0" height="2.0" fill="#000"/>
<rect x="276.0" y="1435.0" width="276.0" height="2.0" fill="#000"/>
<rect x="276.0" y="1160.0" width="1.0" height="277.0" fill="#000"/>
<rect x="551.0" y="1160.0" width="1.0" height="277.0" fill="#000"/>

<g fill="none" stroke-linejoin="round" stroke-linecap="square">
<path d="M276.35 1221.06L305.53 1228.35L338.47 1233.29L379.41 1235.18L517.53 1235.18L551.41 1233.29" stroke="#8e0c30" stroke-width="3.00"/>
</g>
<text transform="translate(282.00,1410.60) scale(0.8467,1)" font-size="15.30" text-anchor="start" fill="#141414" stroke="#141414" stroke-width="0.15" xml:space="preserve">V<tspan font-size="11.78" dy="3.00">IN</tspan><tspan dy="-3.00"> = V</tspan><tspan font-size="11.78" dy="3.00">CONTROL</tspan><tspan dy="-3.00"> = 7V</tspan></text>
<text transform="translate(282.00,1426.80) scale(0.8312,1)" font-size="15.30" text-anchor="start" fill="#141414" stroke="#141414" stroke-width="0.15" xml:space="preserve">V<tspan font-size="11.78" dy="3.00">OUT</tspan><tspan dy="-3.00"> = 0V</tspan></text>
<text transform="translate(278.10,1454.80) scale(0.8600,1)" font-size="15.20" text-anchor="middle" fill="#141414" stroke="#141414" stroke-width="0.15" xml:space="preserve">–50</text>
<text transform="translate(312.48,1454.80) scale(0.8600,1)" font-size="15.20" text-anchor="middle" fill="#141414" stroke="#141414" stroke-width="0.15" xml:space="preserve">–25</text>
<text transform="translate(346.25,1454.80) scale(0.8600,1)" font-size="15.20" text-anchor="middle" fill="#141414" stroke="#141414" stroke-width="0.15" xml:space="preserve">0</text>
<text transform="translate(380.62,1454.80) scale(0.8600,1)" font-size="15.20" text-anchor="middle" fill="#141414" stroke="#141414" stroke-width="0.15" xml:space="preserve">25</text>
<text transform="translate(415.00,1454.80) scale(0.8600,1)" font-size="15.20" text-anchor="middle" fill="#141414" stroke="#141414" stroke-width="0.15" xml:space="preserve">50</text>
<text transform="translate(449.38,1454.80) scale(0.8600,1)" font-size="15.20" text-anchor="middle" fill="#141414" stroke="#141414" stroke-width="0.15" xml:space="preserve">75</text>
<text transform="translate(483.75,1454.80) scale(0.8600,1)" font-size="15.20" text-anchor="middle" fill="#141414" stroke="#141414" stroke-width="0.15" xml:space="preserve">100</text>
<text transform="translate(518.12,1454.80) scale(0.8600,1)" font-size="15.20" text-anchor="middle" fill="#141414" stroke="#141414" stroke-width="0.15" xml:space="preserve">125</text>
<text transform="translate(552.50,1454.80) scale(0.8600,1)" font-size="15.20" text-anchor="middle" fill="#141414" stroke="#141414" stroke-width="0.15" xml:space="preserve">150</text>
<text transform="translate(269.20,1441.40) scale(0.8600,1)" font-size="15.20" text-anchor="end" fill="#141414" stroke="#141414" stroke-width="0.15" xml:space="preserve">0</text>
<text transform="translate(269.20,1413.90) scale(0.8600,1)" font-size="15.20" text-anchor="end" fill="#141414" stroke="#141414" stroke-width="0.15" xml:space="preserve">0.5</text>
<text transform="translate(269.20,1386.40) scale(0.8600,1)" font-size="15.20" text-anchor="end" fill="#141414" stroke="#141414" stroke-width="0.15" xml:space="preserve">1.0</text>
<text transform="translate(269.20,1358.90) scale(0.8600,1)" font-size="15.20" text-anchor="end" fill="#141414" stroke="#141414" stroke-width="0.15" xml:space="preserve">1.5</text>
<text transform="translate(269.20,1331.40) scale(0.8600,1)" font-size="15.20" text-anchor="end" fill="#141414" stroke="#141414" stroke-width="0.15" xml:space="preserve">2.0</text>
<text transform="translate(269.20,1303.90) scale(0.8600,1)" font-size="15.20" text-anchor="end" fill="#141414" stroke="#141414" stroke-width="0.15" xml:space="preserve">2.5</text>
<text transform="translate(269.20,1276.40) scale(0.8600,1)" font-size="15.20" text-anchor="end" fill="#141414" stroke="#141414" stroke-width="0.15" xml:space="preserve">3.0</text>
<text transform="translate(269.20,1248.90) scale(0.8600,1)" font-size="15.20" text-anchor="end" fill="#141414" stroke="#141414" stroke-width="0.15" xml:space="preserve">3.5</text>
<text transform="translate(269.20,1221.40) scale(0.8600,1)" font-size="15.20" text-anchor="end" fill="#141414" stroke="#141414" stroke-width="0.15" xml:space="preserve">4.0</text>
<text transform="translate(269.20,1193.90) scale(0.8600,1)" font-size="15.20" text-anchor="end" fill="#141414" stroke="#141414" stroke-width="0.15" xml:space="preserve">4.5</text>
<text transform="translate(269.20,1166.40) scale(0.8600,1)" font-size="15.20" text-anchor="end" fill="#141414" stroke="#141414" stroke-width="0.15" xml:space="preserve">5.0</text>
<text transform="translate(276.60,1144.80) scale(0.8447,1)" font-size="19.80" text-anchor="start" font-weight="bold" fill="#000" stroke="#000" stroke-width="0.45" xml:space="preserve">Current Limit</text>
<text transform="translate(416.50,1473.00) scale(0.7786,1)" font-size="15.20" text-anchor="middle" fill="#141414" stroke="#141414" stroke-width="0.15" xml:space="preserve">TEMPERATURE (°C)</text>
<text transform="translate(237.00,1298.50) rotate(-90) scale(0.8279,1)" font-size="15.20" text-anchor="middle" fill="#141414" stroke="#141414" stroke-width="0.15" xml:space="preserve">CURRENT LIMIT (A)</text>
<text transform="translate(551.80,1499.00) scale(0.8400,1)" font-size="8.70" text-anchor="end" fill="#141414" xml:space="preserve">3083 G15</text>
<path d="M793.5 1161.0V1436.0M862.5 1161.0V1436.0M931.5 1161.0V1436.0M724.5 1195.5H999.5M724.5 1229.5H999.5M724.5 1264.5H999.5M724.5 1298.5H999.5M724.5 1332.5H999.5M724.5 1367.5H999.5M724.5 1401.5H999.5" stroke="#58595b" stroke-width="1" fill="none"/>
<rect x="930.8" y="1162.0" width="65.2" height="26.8" fill="#fff"/>
<rect x="724.0" y="1160.0" width="276.0" height="2.0" fill="#000"/>
<rect x="724.0" y="1435.0" width="276.0" height="2.0" fill="#000"/>
<rect x="724.0" y="1160.0" width="1.0" height="277.0" fill="#000"/>
<rect x="999.0" y="1160.0" width="1.0" height="277.0" fill="#000"/>

<g fill="none" stroke-linejoin="round" stroke-linecap="square">
<path d="M724.5 1436.1L735.4 1436.1Q738.1 1436.1 738.3 1432.6L741.9 1169.5L793.9 1169.2C802 1170.5 813 1176.3 817.8 1182.3L972 1373.5" stroke="#2d8548" stroke-width="2.60"/>
</g>
<text transform="translate(934.00,1180.60) scale(0.8406,1)" font-size="15.30" text-anchor="start" fill="#141414" stroke="#141414" stroke-width="0.15" xml:space="preserve">T<tspan font-size="11.78" dy="3.00">J</tspan><tspan dy="-3.00"> = 25°C</tspan></text>
<text transform="translate(725.50,1454.80) scale(0.8600,1)" font-size="15.20" text-anchor="middle" fill="#141414" stroke="#141414" stroke-width="0.15" xml:space="preserve">0</text>
<text transform="translate(794.25,1454.80) scale(0.8600,1)" font-size="15.20" text-anchor="middle" fill="#141414" stroke="#141414" stroke-width="0.15" xml:space="preserve">5</text>
<text transform="translate(863.00,1454.80) scale(0.8600,1)" font-size="15.20" text-anchor="middle" fill="#141414" stroke="#141414" stroke-width="0.15" xml:space="preserve">10</text>
<text transform="translate(931.75,1454.80) scale(0.8600,1)" font-size="15.20" text-anchor="middle" fill="#141414" stroke="#141414" stroke-width="0.15" xml:space="preserve">15</text>
<text transform="translate(1000.50,1454.80) scale(0.8600,1)" font-size="15.20" text-anchor="middle" fill="#141414" stroke="#141414" stroke-width="0.15" xml:space="preserve">20</text>
<text transform="translate(717.20,1441.40) scale(0.8600,1)" font-size="15.20" text-anchor="end" fill="#141414" stroke="#141414" stroke-width="0.15" xml:space="preserve">0</text>
<text transform="translate(717.20,1407.03) scale(0.8600,1)" font-size="15.20" text-anchor="end" fill="#141414" stroke="#141414" stroke-width="0.15" xml:space="preserve">0.5</text>
<text transform="translate(717.20,1372.65) scale(0.8600,1)" font-size="15.20" text-anchor="end" fill="#141414" stroke="#141414" stroke-width="0.15" xml:space="preserve">1.0</text>
<text transform="translate(717.20,1338.28) scale(0.8600,1)" font-size="15.20" text-anchor="end" fill="#141414" stroke="#141414" stroke-width="0.15" xml:space="preserve">1.5</text>
<text transform="translate(717.20,1303.90) scale(0.8600,1)" font-size="15.20" text-anchor="end" fill="#141414" stroke="#141414" stroke-width="0.15" xml:space="preserve">2.0</text>
<text transform="translate(717.20,1269.53) scale(0.8600,1)" font-size="15.20" text-anchor="end" fill="#141414" stroke="#141414" stroke-width="0.15" xml:space="preserve">2.5</text>
<text transform="translate(717.20,1235.15) scale(0.8600,1)" font-size="15.20" text-anchor="end" fill="#141414" stroke="#141414" stroke-width="0.15" xml:space="preserve">3.0</text>
<text transform="translate(717.20,1200.78) scale(0.8600,1)" font-size="15.20" text-anchor="end" fill="#141414" stroke="#141414" stroke-width="0.15" xml:space="preserve">3.5</text>
<text transform="translate(717.20,1166.40) scale(0.8600,1)" font-size="15.20" text-anchor="end" fill="#141414" stroke="#141414" stroke-width="0.15" xml:space="preserve">4.0</text>
<text transform="translate(726.30,1143.80) scale(0.8447,1)" font-size="19.80" text-anchor="start" font-weight="bold" fill="#000" stroke="#000" stroke-width="0.45" xml:space="preserve">Current Limit</text>
<text transform="translate(865.70,1473.20) scale(0.8059,1)" font-size="15.20" text-anchor="middle" fill="#141414" stroke="#141414" stroke-width="0.15" xml:space="preserve">IN-TO-OUT DIFFERENTIAL (V<tspan font-size="11.70" dy="3.20">IN</tspan><tspan dy="-3.20"> – V</tspan><tspan font-size="11.70" dy="3.20">OUT</tspan><tspan dy="-3.20">) (V)</tspan></text>
<text transform="translate(687.00,1298.50) rotate(-90) scale(0.8279,1)" font-size="15.20" text-anchor="middle" fill="#141414" stroke="#141414" stroke-width="0.15" xml:space="preserve">CURRENT LIMIT (A)</text>
<text transform="translate(999.80,1499.00) scale(0.8400,1)" font-size="8.70" text-anchor="end" fill="#141414" xml:space="preserve">3083 G16</text>
</svg>
</body></html>
